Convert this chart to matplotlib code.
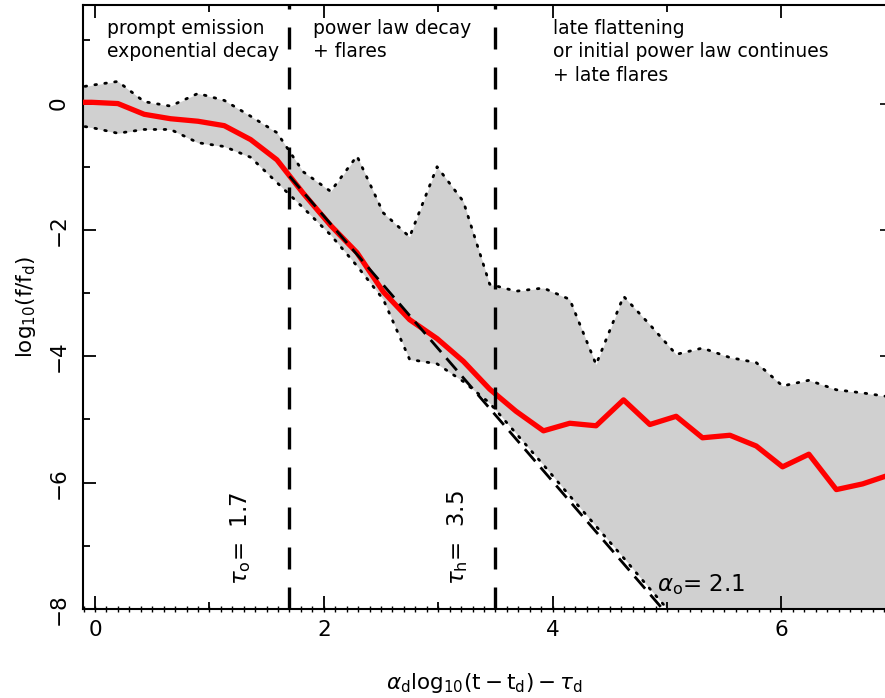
import numpy as np
import matplotlib
matplotlib.use("Agg")
import matplotlib.pyplot as plt

# ---- data ----
x_bins = [-0.26, -0.03, 0.20, 0.43, 0.66, 0.90, 1.13, 1.36, 1.59, 1.82, 2.06,
          2.29, 2.52, 2.75, 2.99, 3.22, 3.45, 3.68, 3.92, 4.15, 4.38,
          4.62, 4.85, 5.08, 5.31, 5.55, 5.78, 6.01, 6.24, 6.48, 6.71, 6.94]
median = [0.02, 0.02, 0.00, -0.17, -0.24, -0.28, -0.35, -0.57, -0.89, -1.42, -1.93,
          -2.36, -2.98, -3.42, -3.72, -4.08, -4.52, -4.87, -5.18, -5.06, -5.10,
          -4.69, -5.08, -4.95, -5.29, -5.25, -5.42, -5.75, -5.55, -6.11, -6.02, -5.88]
upper = [0.22, 0.29, 0.35, 0.03, -0.04, 0.16, 0.05, -0.20, -0.46, -1.08, -1.39,
         -0.83, -1.73, -2.11, -1.00, -1.55, -2.86, -2.97, -2.92, -3.10, -4.13,
         -3.05, -3.50, -3.97, -3.87, -4.02, -4.10, -4.47, -4.38, -4.53, -4.58, -4.64]
lower = [-0.32, -0.38, -0.47, -0.41, -0.41, -0.62, -0.68, -0.85, -1.25, -1.65, -2.08,
         -2.57, -3.10, -4.05, -4.12, -4.40, -4.74, -5.22, -5.72, -6.21, -6.69,
         -7.19, -7.68, -8.16, -9.0, -9.0, -9.0, -9.0, -9.0, -9.0, -9.0, -9.0]

tau_o = 1.7
tau_h = 3.5
alpha_o = 2.1
powerlaw_x = [1.7, 5.0]
powerlaw_y = [-1.15, -8.08]

region_texts = ["prompt emission\nexponential decay",
                "power law decay\n+ flares",
                "late flattening\nor initial power law continues\n+ late flares"]

# ---- figure ----
W, H = 885, 698
fig = plt.figure(figsize=(W / 100, H / 100), dpi=100)
ax = fig.add_axes([83 / W, 89 / H, (887 - 83) / W, 604 / H])

ax.set_xlim(-0.105, 6.923)
ax.set_ylim(-8, 1.56)

ax.fill_between(x_bins, lower, upper, color="#d0d0d0", lw=0, zorder=1)
ax.plot(x_bins, upper, color="black", lw=2.0, ls=(0, (0.6, 3.0)),
        dash_capstyle="round", zorder=2)
ax.plot(x_bins, lower, color="black", lw=2.0, ls=(0, (0.6, 3.0)),
        dash_capstyle="round", zorder=2)
ax.plot(x_bins, median, color="red", lw=3.8, zorder=3)
ax.plot(powerlaw_x, powerlaw_y, color="black", lw=2.0, ls=(0, (5.75, 2.9)), zorder=4)
for t in (tau_o, tau_h):
    ax.plot([t, t], [-8, 1.56], color="black", lw=2.4, ls=(0, (6.6, 5.4)), zorder=4)

# ---- text ----
fs_ann = 13.5
ax.text(0.105, 1.34, region_texts[0], fontsize=fs_ann, va="top", ha="left", linespacing=1.3)
ax.text(1.905, 1.34, region_texts[1], fontsize=fs_ann, va="top", ha="left", linespacing=1.3)
ax.text(4.0, 1.34, region_texts[2], fontsize=fs_ann, va="top", ha="left", linespacing=1.3)

ax.text(1.27, -7.62, r"$\tau_{\rm o}$=  " + f"{tau_o}", rotation=90, fontsize=16.5,
        ha="center", va="bottom")
ax.text(3.17, -7.62, r"$\tau_{\rm h}$=  " + f"{tau_h}", rotation=90, fontsize=16.5,
        ha="center", va="bottom")
ax.text(4.91, -7.71, r"$\alpha_{\rm o}$= " + f"{alpha_o}", fontsize=16.5,
        ha="left", va="baseline")

ax.set_xlabel(r"$\alpha_{\rm d}{\rm log}_{10}({\rm t}-{\rm t}_{\rm d})-\tau_{\rm d}$",
              fontsize=15.5, labelpad=22)
ax.set_ylabel(r"${\rm log}_{10}({\rm f/f}_{\rm d})$", fontsize=15.5, labelpad=8)

# ---- axes styling ----
for s in ax.spines.values():
    s.set_linewidth(1.5)

ax.set_xticks([0, 2, 4, 6])
ax.set_xticks([1, 3, 5], minor=True)
ax.set_yticks([-8, -6, -4, -2, 0])
ax.set_yticks([-7, -5, -3, -1, 1], minor=True)
ax.set_yticklabels(["\u22128", "\u22126", "\u22124", "\u22122", "0"])
ax.tick_params(axis="both", which="major", direction="in", length=9.5, width=1.3,
               labelsize=15.5, top=True, right=False)
ax.tick_params(axis="both", which="minor", direction="in", length=5, width=1.3,
               top=True, right=False)
ax.tick_params(axis="x", which="major", pad=8)
ax.tick_params(axis="y", which="major", pad=10, labelrotation=90)
for lab in ax.get_yticklabels():
    lab.set_verticalalignment("center")

sec = ax.secondary_xaxis("bottom")
sec.set_xticks(np.arange(-0.1, 7.0, 0.1))
sec.tick_params(direction="inout", length=4, width=1.0, labelbottom=False)
sec.spines["bottom"].set_visible(False)

secy = ax.secondary_yaxis("right")
secy.set_yticks([-8, -6, -4, -2, 0])
secy.tick_params(direction="in", length=5, width=1.2, labelright=False)
secy.spines["right"].set_visible(False)

fig.savefig("out.png", dpi=100)
